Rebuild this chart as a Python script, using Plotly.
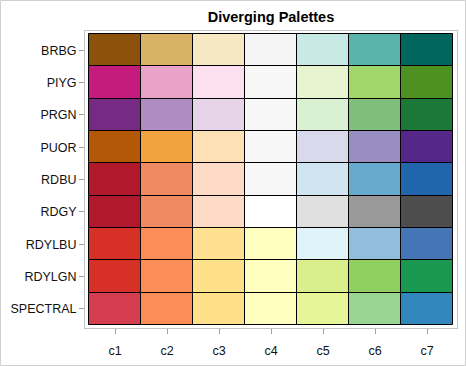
import plotly.graph_objects as go

palettes = ["BRBG", "PIYG", "PRGN", "PUOR", "RDBU", "RDGY", "RDYLBU", "RDYLGN", "SPECTRAL"]
columns = ["c1", "c2", "c3", "c4", "c5", "c6", "c7"]
colors = {
    "BRBG":     ["#8c510a", "#d8b365", "#f6e8c3", "#f5f5f5", "#c7eae5", "#5ab4ac", "#01665e"],
    "PIYG":     ["#c51b7d", "#e9a3c9", "#fde0ef", "#f7f7f7", "#e6f5d0", "#a1d76a", "#4d9221"],
    "PRGN":     ["#762a83", "#af8dc3", "#e7d4e8", "#f7f7f7", "#d9f0d3", "#7fbf7b", "#1b7837"],
    "PUOR":     ["#b35806", "#f1a340", "#fee0b6", "#f7f7f7", "#d8daeb", "#998ec3", "#542788"],
    "RDBU":     ["#b2182b", "#ef8a62", "#fddbc7", "#f7f7f7", "#d1e5f0", "#67a9cf", "#2166ac"],
    "RDGY":     ["#b2182b", "#ef8a62", "#fddbc7", "#ffffff", "#e0e0e0", "#999999", "#4d4d4d"],
    "RDYLBU":   ["#d73027", "#fc8d59", "#fee090", "#ffffbf", "#e0f3f8", "#91bfdb", "#4575b4"],
    "RDYLGN":   ["#d73027", "#fc8d59", "#fee08b", "#ffffbf", "#d9ef8b", "#91cf60", "#1a9850"],
    "SPECTRAL": ["#d53e4f", "#fc8d59", "#fee08b", "#ffffbf", "#e6f598", "#99d594", "#3288bd"],
}

n = len(palettes)
fig = go.Figure()
for i, p in enumerate(palettes):
    fig.add_trace(go.Bar(
        x=columns, y=[1] * len(columns), base=[n - 1 - i] * len(columns),
        marker=dict(color=colors[p], line=dict(color="black", width=1)),
        width=1, showlegend=False, hoverinfo="skip", name=p,
    ))

W, H = 466, 366
ml, mr, mt, mb = 85, 9, 31, 38
font = dict(family="Liberation Sans, Arial, sans-serif", size=12.5, color="#111111")
fig.update_layout(
    width=W, height=H,
    margin=dict(l=ml, r=mr, t=mt, b=mb, pad=0),
    paper_bgcolor="white", plot_bgcolor="white",
    bargap=0, barmode="overlay",
    font=font,
    title=dict(text="<b>Diverging Palettes</b>", x=(ml + (W - ml - mr) / 2) / W, xanchor="center",
               y=1 - 17 / H, yanchor="middle",
               font=dict(family="Liberation Sans, Arial, sans-serif", size=14.5, color="black")),
    xaxis=dict(type="category", range=[-0.577, 6.577], showgrid=False, zeroline=False,
               showline=True, mirror=True, linecolor="#c4c4c4", linewidth=1,
               ticks="outside", ticklen=5, tickcolor="#a0a0a0", tickfont=font,
               ticklabelstandoff=6),
    yaxis=dict(range=[-0.093, n + 0.093], showgrid=False, zeroline=False,
               showline=True, mirror=True, linecolor="#c4c4c4", linewidth=1,
               tickmode="array", tickvals=[n - 1 - i + 0.5 for i in range(n)], ticktext=palettes,
               ticks="outside", ticklen=5, tickcolor="#a0a0a0", tickfont=font),
)
pw, ph = W - ml - mr, H - mt - mb
fig.add_shape(type="rect", xref="paper", yref="paper",
              x0=-(ml - 0.5) / pw, x1=1 + (mr - 0.5) / pw,
              y0=-(mb - 0.5) / ph, y1=1 + (mt - 0.5) / ph,
              line=dict(color="#d0d0d0", width=1), layer="below")
fig.write_html("out.html", config={"displayModeBar": False},
               post_script="document.body.style.margin='0';")
